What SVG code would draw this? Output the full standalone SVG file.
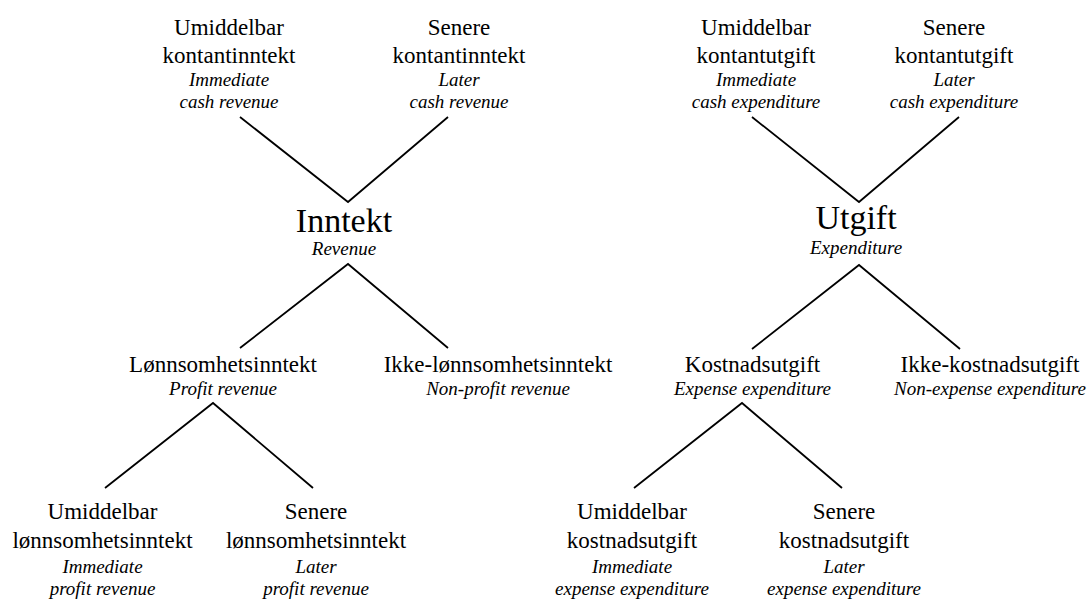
<svg xmlns="http://www.w3.org/2000/svg" width="1090" height="599" viewBox="0 0 1090 599">
  <style>
    text { font-family: 'Liberation Serif', 'Times New Roman', serif; fill: #000; text-anchor: middle; }
    .n { font-size: 23px; }
    .t { font-size: 19px; font-style: italic; }
    .big { font-size: 34px; }
    .edge { fill: none; stroke: #000; stroke-width: 1.8; stroke-linejoin: miter; }
  </style>
  <rect width="1090" height="599" fill="#fff"/>

  <!-- connectors: each parent joins its two children with a V-shaped pair of lines -->
  <g id="connectors">
    <polyline class="edge" points="240,117 348,202 448,117"/>
    <polyline class="edge" points="752,117 859,202 959,117"/>
    <polyline class="edge" points="240,348 348,264 448,348"/>
    <polyline class="edge" points="752,349 859,265 960,349"/>
    <polyline class="edge" points="105,488 213,403 313,488"/>
    <polyline class="edge" points="634,488 742,403 842,488"/>
  </g>

  <!-- revenue tree -->
  <g id="immediate-cash-revenue">
    <text class="n" x="229" y="35">Umiddelbar</text>
    <text class="n" x="229" y="63">kontantinntekt</text>
    <text class="t" x="229" y="86">Immediate</text>
    <text class="t" x="229" y="108">cash revenue</text>
  </g>
  <g id="later-cash-revenue">
    <text class="n" x="459" y="35">Senere</text>
    <text class="n" x="459" y="63">kontantinntekt</text>
    <text class="t" x="459" y="86">Later</text>
    <text class="t" x="459" y="108">cash revenue</text>
  </g>
  <g id="revenue">
    <text class="big" x="344" y="231.5">Inntekt</text>
    <text class="t" x="344" y="255">Revenue</text>
  </g>
  <g id="profit-revenue">
    <text class="n" x="223" y="371.5">Lønnsomhetsinntekt</text>
    <text class="t" x="223" y="395">Profit revenue</text>
  </g>
  <g id="non-profit-revenue">
    <text class="n" x="498" y="371.5">Ikke-lønnsomhetsinntekt</text>
    <text class="t" x="498" y="395">Non-profit revenue</text>
  </g>
  <g id="immediate-profit-revenue">
    <text class="n" x="102.5" y="519">Umiddelbar</text>
    <text class="n" x="102.5" y="548">lønnsomhetsinntekt</text>
    <text class="t" x="102.5" y="573">Immediate</text>
    <text class="t" x="102.5" y="595">profit revenue</text>
  </g>
  <g id="later-profit-revenue">
    <text class="n" x="316" y="519">Senere</text>
    <text class="n" x="316" y="548">lønnsomhetsinntekt</text>
    <text class="t" x="316" y="573">Later</text>
    <text class="t" x="316" y="595">profit revenue</text>
  </g>

  <!-- expenditure tree -->
  <g id="immediate-cash-expenditure">
    <text class="n" x="756" y="35">Umiddelbar</text>
    <text class="n" x="756" y="63">kontantutgift</text>
    <text class="t" x="756" y="86">Immediate</text>
    <text class="t" x="756" y="108">cash expenditure</text>
  </g>
  <g id="later-cash-expenditure">
    <text class="n" x="954" y="35">Senere</text>
    <text class="n" x="954" y="63">kontantutgift</text>
    <text class="t" x="954" y="86">Later</text>
    <text class="t" x="954" y="108">cash expenditure</text>
  </g>
  <g id="expenditure">
    <text class="big" x="856" y="229">Utgift</text>
    <text class="t" x="856" y="253.5">Expenditure</text>
  </g>
  <g id="expense-expenditure">
    <text class="n" x="752.5" y="371.5">Kostnadsutgift</text>
    <text class="t" x="752.5" y="395">Expense expenditure</text>
  </g>
  <g id="non-expense-expenditure">
    <text class="n" x="990" y="371.5">Ikke-kostnadsutgift</text>
    <text class="t" x="990" y="395">Non-expense expenditure</text>
  </g>
  <g id="immediate-expense-expenditure">
    <text class="n" x="632" y="519">Umiddelbar</text>
    <text class="n" x="632" y="548">kostnadsutgift</text>
    <text class="t" x="632" y="573">Immediate</text>
    <text class="t" x="632" y="595">expense expenditure</text>
  </g>
  <g id="later-expense-expenditure">
    <text class="n" x="844" y="519">Senere</text>
    <text class="n" x="844" y="548">kostnadsutgift</text>
    <text class="t" x="844" y="573">Later</text>
    <text class="t" x="844" y="595">expense expenditure</text>
  </g>
</svg>
